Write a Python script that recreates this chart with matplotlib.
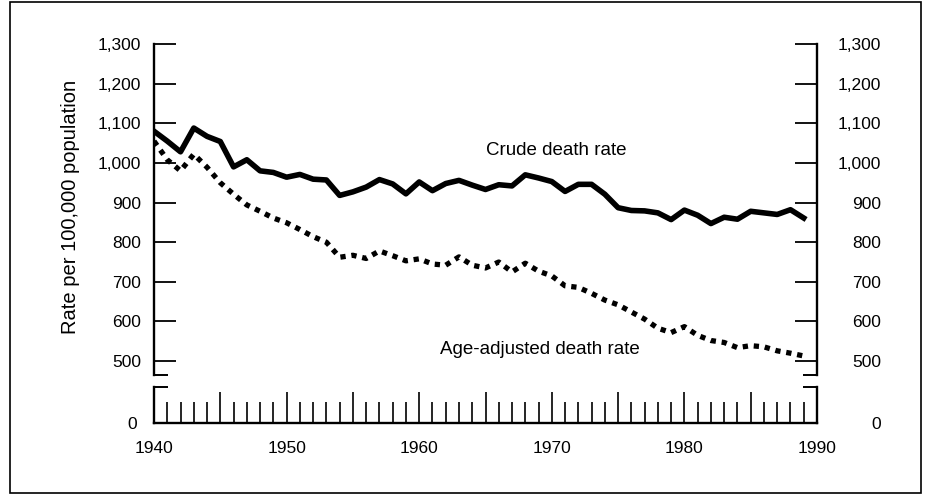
import matplotlib
matplotlib.use("Agg")
import matplotlib.pyplot as plt
from matplotlib.patches import Rectangle

plt.rcParams['font.family'] = ['Liberation Sans', 'DejaVu Sans']

years = list(range(1940, 1990))
crude = [1080, 1055, 1028, 1088, 1067, 1054, 990, 1008, 980, 976,
         964, 971, 959, 957, 918, 927, 939, 958, 947, 922,
         952, 930, 948, 956, 944, 933, 945, 942, 970, 962,
         953, 928, 946, 946, 921, 887, 880, 879, 874, 857,
         881, 868, 847, 863, 858, 878, 874, 870, 882, 861]
adjusted = [1055, 1008, 980, 1022, 989, 950, 921, 894, 878, 861,
            849, 832, 814, 800, 762, 767, 759, 778, 766, 753,
            758, 745, 742, 763, 742, 735, 750, 725, 747, 727,
            715, 690, 686, 671, 654, 642, 624, 606, 583, 572,
            587, 565, 552, 547, 534, 539, 536, 526, 520, 513]

y_ticks = [500, 600, 700, 800, 900, 1000, 1100, 1200, 1300]
x_major = list(range(1940, 1991, 5))
x_labels = ['1940', '', '1950', '', '1960', '', '1970', '', '1980', '', '1990']

W, H = 929, 495
fig = plt.figure(figsize=(W / 100, H / 100), dpi=100)
left = 154 / W
width = (817 - 154) / W

# upper part: 465..1300
ax = fig.add_axes([left, 1 - 375 / H, width, 331 / H])
ax.set_xlim(1940, 1990)
ax.set_ylim(465, 1300)
ax.plot(years, crude, color='black', lw=4.0)
ax.plot(years, adjusted, color='black', lw=3.8, linestyle=(0, (1, 1.1)),
        dash_capstyle='butt')
ax.text(1965.0, 1032, 'Crude death rate', fontsize=13.5, ha='left', va='center')
ax.text(1961.55, 530, 'Age-adjusted death rate', fontsize=13.5, ha='left', va='center')

ax2 = ax.twinx()
ax2.set_ylim(465, 1300)
for a in (ax, ax2):
    a.spines['top'].set_visible(False)
    a.spines['bottom'].set_visible(False)
    a.set_xticks([])
    a.set_yticks(y_ticks)
    a.set_yticklabels([f'{v:,}' for v in y_ticks])
    a.set_yticks([465], minor=True)
    a.tick_params(axis='y', which='major', direction='in', length=16, width=1.3,
                  labelsize=12.5)
    a.tick_params(axis='y', which='minor', direction='in', length=10, width=1.4)
ax.spines['right'].set_visible(False)
ax.spines['left'].set_linewidth(1.7)
ax2.spines['left'].set_visible(False)
ax2.spines['right'].set_linewidth(1.7)
ax.tick_params(axis='y', which='major', pad=9)
ax2.tick_params(axis='y', which='major', pad=46)
for t in ax2.get_yticklabels():
    t.set_horizontalalignment('right')

# lower part: just zero
axl = fig.add_axes([left, 1 - 423 / H, width, 36 / H])
axl.set_xlim(1940, 1990)
axl.set_ylim(0, 1)
axl.set_xticks(x_major)
axl.set_xticklabels(x_labels)
axl.set_xticks(years, minor=True)
axl.tick_params(axis='x', which='major', direction='in', length=22, width=1.2,
                labelsize=12.5, pad=13)
axl.tick_params(axis='x', which='minor', direction='in', length=15, width=1.2)

axl2 = axl.twinx()
axl2.set_ylim(0, 1)
for a in (axl, axl2):
    a.spines['top'].set_visible(False)
    a.set_yticks([0])
    a.set_yticklabels(['0'])
    a.set_yticks([1], minor=True)
    a.tick_params(axis='y', which='major', length=0, labelsize=12.5)
    a.tick_params(axis='y', which='minor', direction='in', length=10, width=1.4)
    for s in a.spines.values():
        s.set_linewidth(1.7)
axl.spines['right'].set_visible(False)
axl2.spines['left'].set_visible(False)
axl2.spines['bottom'].set_visible(False)
axl.tick_params(axis='y', which='major', pad=12)
axl2.tick_params(axis='y', which='major', pad=46)
for t in axl2.get_yticklabels():
    t.set_horizontalalignment('right')

fig.text(70 / W, 1 - 207 / H, 'Rate per 100,000 population', rotation=90,
         ha='center', va='center', fontsize=14.5)

fig.add_artist(Rectangle((10 / W, 2 / H), 911 / W, 491 / H, transform=fig.transFigure,
                         fill=False, lw=1.2, color='black'))

fig.savefig('out.png', dpi=100)
